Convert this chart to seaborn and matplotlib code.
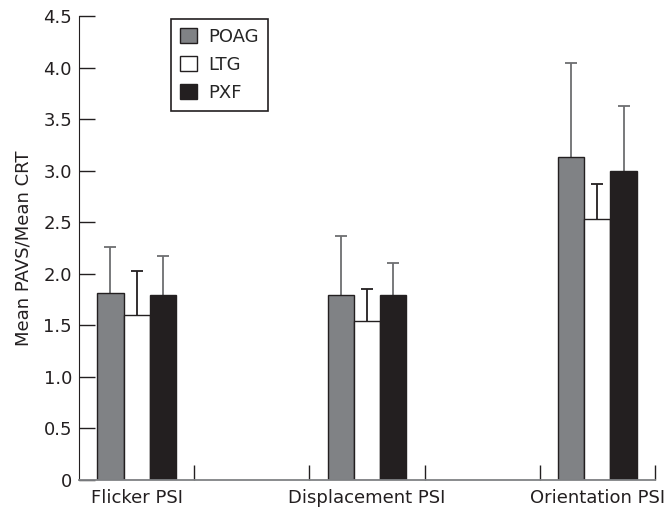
import numpy as np
import pandas as pd
import seaborn as sns
import matplotlib.pyplot as plt

tests = ["Flicker PSI", "Displacement PSI", "Orientation PSI"]
groups = ["POAG", "LTG", "PXF"]

poag_mean = [1.81, 1.79, 3.13]
poag_sd = [0.45, 0.58, 0.91]
ltg_mean = [1.60, 1.54, 2.53]
ltg_sd = [0.43, 0.31, 0.34]
pxf_mean = [1.79, 1.79, 3.00]
pxf_sd = [0.38, 0.31, 0.63]

yticks = [0, 0.5, 1.0, 1.5, 2.0, 2.5, 3.0, 3.5, 4.0, 4.5]
ytick_labels = ["0", "0.5", "1.0", "1.5", "2.0", "2.5", "3.0", "3.5", "4.0", "4.5"]

bar_colors = {"POAG": "#808285", "LTG": "#ffffff", "PXF": "#231f20"}
err_colors = {"POAG": "#6d6e71", "LTG": "#231f20", "PXF": "#6d6e71"}

df = pd.DataFrame({
    "test": tests * 3,
    "group": ["POAG"] * 3 + ["LTG"] * 3 + ["PXF"] * 3,
    "mean": poag_mean + ltg_mean + pxf_mean,
    "sd": poag_sd + ltg_sd + pxf_sd,
})

sns.set_style("ticks")
plt.rcParams["font.family"] = ["DejaVu Sans"]
fs = 13

fig = plt.figure(figsize=(6.7, 5.11), dpi=100)
ax = fig.add_axes([0.1179, 0.0612, 0.8597, 0.9074])

sns.barplot(data=df, x="test", y="mean", hue="group", order=tests, hue_order=groups,
            palette=bar_colors, saturation=1, width=0.34, errorbar=None,
            edgecolor="#231f20", linewidth=1, ax=ax, zorder=2)

# error bars sit behind the bars, so only the upper half shows
for cont, g in zip(ax.containers, groups):
    xs = [p.get_x() + p.get_width() / 2 for p in cont]
    sub = df[df["group"] == g].set_index("test").loc[tests]
    ax.errorbar(xs, sub["mean"], yerr=sub["sd"], fmt="none",
                ecolor=err_colors[g], elinewidth=1.3, capsize=4.5, capthick=1.3, zorder=1)

ax.set_xlim(-0.25, 2.25)
ax.set_ylim(0, 4.5)
ax.set_yticks(yticks)
ax.set_yticklabels(ytick_labels)
ax.set_xticks([0, 1, 2])
ax.set_xticklabels(tests)
ax.set_xticks([0.25, 0.75, 1.25, 1.75, 2.25], minor=True)
ax.tick_params(axis="x", which="major", length=0, pad=7, labelsize=fs, colors="#231f20")
ax.tick_params(axis="x", which="minor", direction="in", length=11, width=1, color="#231f20")
ax.tick_params(axis="y", direction="in", length=11.5, width=1, pad=5, labelsize=fs,
               color="#231f20", labelcolor="#231f20")

ax.set_xlabel("")
ax.set_ylabel("Mean PAVS/Mean CRT", fontsize=fs, labelpad=8, color="#231f20")

sns.despine(ax=ax)
ax.spines["left"].set_color("#231f20")
ax.spines["bottom"].set_color("#808285")
ax.spines["bottom"].set_linewidth(1.3)

h, l = ax.get_legend_handles_labels()
ax.legend(h, l, loc="upper left", bbox_to_anchor=(0.16, 0.994), frameon=True,
          fancybox=False, framealpha=1, edgecolor="#231f20", fontsize=fs,
          handlelength=0.95, handleheight=0.95, handletextpad=0.6,
          labelspacing=0.55, borderpad=0.5, borderaxespad=0)
ax.get_legend().get_frame().set_linewidth(1.2)

fig.savefig("out.png", dpi=100)
